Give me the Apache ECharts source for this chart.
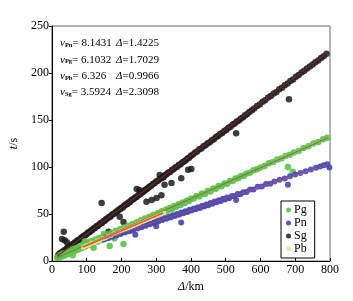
<!DOCTYPE html>
<html><head><meta charset="utf-8">
<script src="https://cdn.jsdelivr.net/npm/echarts@6/dist/echarts.min.js"></script>
<style>html,body{margin:0;padding:0;background:#fff}#c{width:353px;height:301px}</style>
</head><body><div id="c"></div>
<script>
const xTicks = [0,100,200,300,400,500,600,700,800];
const yTicks = [0,50,100,150,200,250];
const seriesNames = ['Pg','Pn','Sg','Pb'];
const velocityLabels = [['Pn','8.1431','1.4225'],['Pg','6.1032','1.7029'],['Pb','6.326','0.9966'],['Sg','3.5924','2.3098']];

const sgData = [[18,6.2],[22,7.9],[25,8.1],[29,9.6],[33,10.1],[36,11.4],[40,12.3],[44,13.9],[47,14.2],[51,15.6],[55,16.0],[58,17.5],[62,18.1],[66,19.8],[70,20.2],[73,21.9],[77,22.4],[81,23.1],[85,25.0],[88,25.2],[92,26.9],[96,27.3],[100,28.8],[104,30.4],[108,30.6],[112,32.3],[116,33.0],[120,34.5],[124,35.1],[128,36.9],[132,37.2],[136,38.8],[140,40.1],[144,40.5],[148,42.3],[152,42.9],[156,44.6],[160,45.2],[164,46.8],[168,47.0],[172,48.9],[176,50.1],[180,50.4],[184,52.2],[188,52.8],[192,54.5],[196,55.1],[200,56.7],[204,57.0],[208,58.9],[212,60.1],[216,60.4],[220,62.3],[224,62.6],[228,64.5],[232,65.4],[236,66.2],[240,67.9],[244,68.1],[248,70.0],[252,70.8],[256,71.6],[260,73.4],[264,73.9],[268,75.6],[272,76.2],[276,77.5],[280,79.1],[285,79.8],[290,81.9],[295,82.6],[300,84.5],[305,85.3],[310,87.2],[315,88.0],[320,89.9],[325,91.1],[330,92.3],[335,94.2],[340,94.8],[345,96.9],[350,97.5],[355,99.6],[360,100.3],[365,102.1],[370,103.0],[375,104.8],[380,105.9],[385,107.3],[390,109.0],[395,109.8],[400,111.9],[406,113.2],[412,115.4],[418,116.6],[424,118.9],[430,119.8],[436,122.0],[442,123.1],[448,125.3],[454,126.2],[460,128.4],[466,129.6],[472,131.8],[478,132.9],[484,135.0],[490,136.3],[496,138.4],[502,139.5],[508,141.7],[514,142.9],[520,145.1],[526,146.2],[532,148.3],[538,149.6],[544,151.6],[550,152.9],[556,155.0],[562,156.3],[568,158.4],[575,160.5],[582,162.3],[590,165.0],[598,166.6],[606,169.5],[614,171.0],[622,173.9],[630,175.4],[638,178.2],[646,179.9],[654,182.6],[662,184.3],[670,187.0],[678,188.9],[686,191.5],[694,193.2],[702,196.0],[710,197.8],[718,200.4],[726,202.4],[734,204.7],[742,206.9],[750,209.1],[758,211.5],[766,213.4],[774,216.0],[782,217.8],[790,220.6],
[34,31],[29,23.5],[37,22],[43,20],[143,61.6],[163,31],[195,47],[206,41.5],[244,76.6],[252,75.5],[272,63],[287,65],[301,67],[310,91.5],[315,70],[321,89],[324,81],[344,83],[372,88],[392,97],[401,98],[530,136],[682,172]];

const pgData = [[15,4.1],[20,3.2],[24,6.5],[28,4.8],[32,7.9],[36,5.5],[40,8.9],[45,7.2],[50,10.8],[55,9.1],[60,12.6],[65,10.5],[70,13.9],[75,12.1],[80,15.8],[85,13.6],[90,17.2],[95,15.1],[100,18.9],[106,17.0],[112,20.9],[118,18.6],[124,22.8],[130,20.5],[136,24.6],[142,22.0],[148,26.4],[154,24.1],[160,28.3],[166,25.9],[172,30.0],[178,27.8],[184,32.1],[190,29.9],[196,33.8],[202,31.6],[208,35.7],[214,33.9],[220,37.5],[226,35.6],[232,39.4],[238,37.9],[244,41.2],[250,39.8],[256,43.3],[262,41.9],[268,45.1],[274,43.8],[280,47.0],[286,45.9],[292,49.1],[298,47.6],[304,50.9],[310,49.5],[316,53.0],[322,51.7],[328,54.8],[334,53.6],[340,56.7],[346,55.4],[352,58.5],[358,57.6],[364,60.4],[370,59.5],[376,62.3],[382,61.8],[388,64.2],[394,63.7],[400,66.3],[408,66.4],[416,69.2],[424,68.6],[432,71.9],[440,71.3],[448,74.5],[456,74.0],[464,77.2],[472,76.9],[480,79.8],[488,79.6],[496,82.4],[504,82.3],[512,85.0],[520,85.1],[528,87.7],[536,87.9],[544,90.4],[552,90.7],[560,93.2],[570,93.9],[580,96.6],[590,97.5],[600,99.6],[612,101.0],[624,104.1],[636,105.3],[648,107.9],[660,109.0],[672,111.8],[684,113.1],[696,115.5],[710,117.1],[724,120.3],[738,122.0],[752,124.9],[766,126.6],[780,129.5],[792,131.2],
[679,100],[693,95],[120,14],[180,24],[230,32],[60,6],[95,21],[150,29],[206,18],[166,16]];

const pnData = [[150,23.0],[156,24.9],[162,24.3],[168,26.4],[174,25.8],[180,27.9],[186,27.1],[192,29.3],[198,28.6],[204,30.9],[210,30.2],[216,32.3],[222,31.6],[228,33.8],[234,33.1],[240,35.2],[246,34.6],[252,36.8],[258,36.0],[264,38.2],[270,37.5],[276,39.8],[282,39.1],[288,41.2],[294,40.4],[300,42.7],[306,41.9],[312,44.1],[318,43.5],[324,45.6],[330,44.9],[336,47.1],[342,46.3],[348,48.6],[354,47.8],[360,50.0],[366,49.3],[372,51.5],[378,50.7],[384,53.0],[390,52.1],[396,54.4],[402,53.6],[408,55.9],[414,55.1],[420,57.3],[426,56.5],[432,58.8],[438,58.0],[444,60.2],[450,59.4],[456,61.7],[462,60.9],[468,63.2],[474,62.4],[480,64.6],[486,63.8],[492,66.1],[498,65.3],[504,67.5],[510,66.8],[518,69.2],[526,69.0],[534,71.3],[542,70.9],[550,73.2],[560,73.4],[570,76.0],[580,76.1],[592,78.9],[604,79.3],[616,81.8],[628,82.2],[640,84.5],[655,86.4],[670,87.8],[685,90.1],[700,92.0],[715,93.7],[730,95.6],[745,97.4],[760,99.3],[772,100.5],[782,101.9],[792,102.8],[798,99.5],
[679,81],[530,65],[372,41],[240,28],[300,37]];

const pbData = [[90,14.6],[98,16.2],[106,17.1],[114,18.8],[122,19.5],[130,21.3],[138,22.1],[146,23.8],[154,24.6],[162,26.3],[170,27.2],[178,28.9],[186,29.7],[194,31.3],[202,32.4],[210,33.8],[218,34.9],[226,36.2],[234,37.5],[242,38.8],[250,40.0],[258,41.4],[266,42.5],[274,43.9],[282,45.0],[290,46.3],[298,47.6],[306,48.7],[314,50.1],[322,51.2]];

const sgFit = [[15,5],[795,222]];
const pgFit = [[15,3.5],[795,131]];
const pnFit = [[150,23.5],[795,102.5]];
const pbFit = [[90,14.7],[320,51]];

const chart = echarts.init(document.getElementById('c'), null, {renderer:'canvas'});
const serif = "'Liberation Serif', 'Times New Roman', serif";
const colors = {Pg:'#5cc24a', Pn:'#4646b4', Sg:'#1c1c1c', Pb:'#e2ea94'};

const graphics = velocityLabels.map((r,i)=>({
  type:'text', left:60, top:38+i*16.3, z:100,
  style:{
    text:'{v|v}{s|'+r[0]+'}{n|= '+r[1]+'}',
    rich:{
      v:{fontFamily:serif, fontStyle:'italic', fontSize:11, fill:'#000', verticalAlign:'bottom'},
      s:{fontFamily:serif, fontSize:6.5, fontWeight:'bold', fill:'#000', verticalAlign:'bottom', padding:[4,0,0,0]},
      n:{fontFamily:serif, fontSize:11, fill:'#000', verticalAlign:'bottom'}
    }
  }
})).concat(velocityLabels.map((r,i)=>({
  type:'text', left:116, top:38+i*16.3, z:100,
  style:{
    text:'{d|Δ}{n|='+r[2]+'}',
    rich:{
      d:{fontFamily:serif, fontStyle:'italic', fontSize:11, fill:'#000'},
      n:{fontFamily:serif, fontSize:11, fill:'#000'}
    }
  }
})));

chart.setOption({
  animation:false,
  backgroundColor:'#fff',
  grid:{left:51, right:23, top:26, bottom:40, show:true, borderColor:'#6a6a6a', borderWidth:1},
  xAxis:{type:'value', min:xTicks[0], max:xTicks[xTicks.length-1], interval:100,
    name:'{i|Δ}/km', nameLocation:'middle', nameGap:20,
    nameTextStyle:{fontFamily:serif, fontSize:12, color:'#000', rich:{i:{fontFamily:serif, fontStyle:'italic', fontSize:12, color:'#000'}}},
    axisLine:{lineStyle:{color:'#000', width:1}},
    axisTick:{inside:true, length:3, lineStyle:{color:'#000'}},
    axisLabel:{fontFamily:serif, fontSize:12, color:'#000', margin:3},
    splitLine:{show:false}},
  yAxis:{type:'value', min:yTicks[0], max:yTicks[yTicks.length-1], interval:50,
    name:'{i|t}/s', nameLocation:'middle', nameGap:26, nameRotate:90,
    nameTextStyle:{fontFamily:serif, fontSize:12, color:'#000', rich:{i:{fontFamily:serif, fontStyle:'italic', fontSize:12, color:'#000'}}},
    axisLine:{show:true, lineStyle:{color:'#000', width:1}},
    axisTick:{show:true, inside:false, length:3, lineStyle:{color:'#000'}},
    axisLabel:{fontFamily:serif, fontSize:12, color:'#000', margin:3},
    splitLine:{show:false}},
  legend:{data:seriesNames, orient:'vertical', left:281, top:201, width:36,
    backgroundColor:'#fff', borderColor:'#000', borderWidth:1, padding:[3,8,3,5],
    itemGap:1, itemWidth:5, itemHeight:5, icon:'circle',
    textStyle:{fontFamily:serif, fontSize:12, color:'#000', padding:[0,0,0,-2]}},
  graphic:graphics,
  series:[
    {name:'Sg', type:'scatter', data:sgData, symbolSize:6.5, itemStyle:{color:colors.Sg, opacity:0.85}, z:2},
    {name:'Pg', type:'scatter', data:pgData, symbolSize:6.5, itemStyle:{color:colors.Pg, opacity:0.9}, z:2},
    {name:'Pn', type:'scatter', data:pnData, symbolSize:6, itemStyle:{color:colors.Pn, opacity:0.9}, z:3},
    {name:'Pb', type:'scatter', data:pbData, symbolSize:5, itemStyle:{color:colors.Pb, opacity:0.9}, z:3},
    {type:'line', data:sgFit, symbol:'none', lineStyle:{color:'#7a2626', width:1.2}, z:4, silent:true},
    {type:'line', data:pgFit, symbol:'none', lineStyle:{color:'#b04a3a', width:0.8}, z:4, silent:true},
    {type:'line', data:pnFit, symbol:'none', lineStyle:{color:'#c05068', width:0.8}, z:4, silent:true},
    {type:'line', data:pbFit, symbol:'none', lineStyle:{color:'#e85a20', width:1.5}, z:5, silent:true}
  ]
});
</script></body></html>
